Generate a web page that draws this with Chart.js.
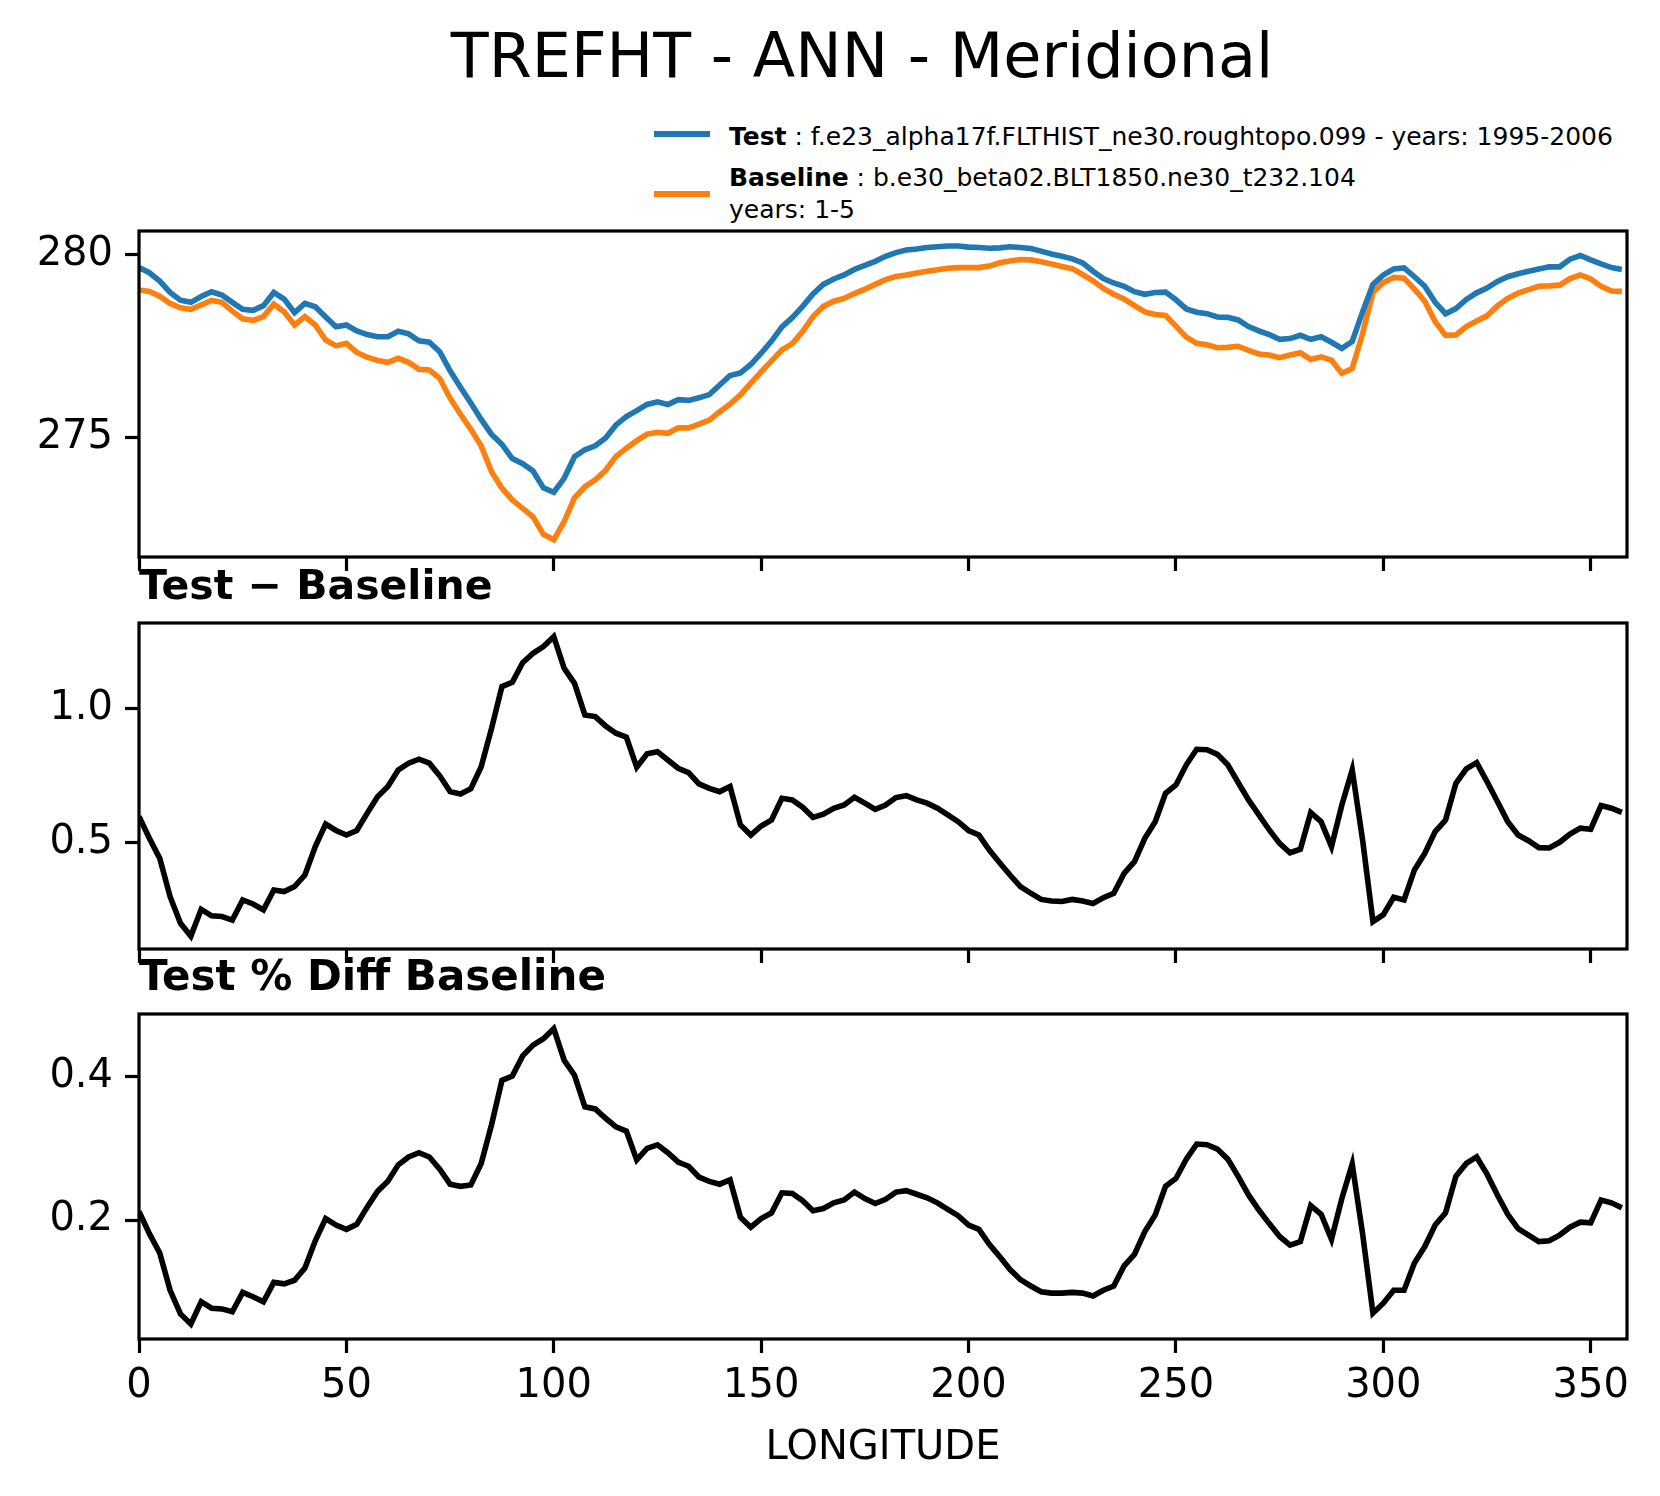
<!DOCTYPE html>
<html>
<head>
<meta charset="utf-8">
<script src="https://cdn.jsdelivr.net/npm/chart.js@4.4.1/dist/chart.umd.min.js"></script>
<style>
  html, body { margin: 0; padding: 0; background: #fff; }
  body { width: 1660px; height: 1496px; position: relative; overflow: hidden;
         font-family: "DejaVu Sans", sans-serif; color: #000; }
  canvas { position: absolute; left: 0; }
  .txt { position: absolute; white-space: nowrap; line-height: 1; }
  .swatch { position: absolute; height: 6px; width: 56px; }
</style>
</head>
<body>
<div class="txt" style="left:32px; width:1660px; text-align:center; top:25px; font-size:62px;">TREFHT - ANN - Meridional</div>

<div class="swatch" style="left:654px; top:131px; background:#1f77b4;"></div>
<div class="txt" style="left:729px; top:124px; font-size:25px;"><b>Test</b> : f.e23_alpha17f.FLTHIST_ne30.roughtopo.099 - years: 1995-2006</div>
<div class="swatch" style="left:654px; top:191px; background:#ff7f0e;"></div>
<div class="txt" style="left:729px; top:165px; font-size:25px;"><b>Baseline</b> : b.e30_beta02.BLT1850.ne30_t232.104</div>
<div class="txt" style="left:729px; top:197px; font-size:25px;">years: 1-5</div>

<canvas id="c1" width="1660" height="366" style="top:221px;"></canvas>
<canvas id="c2" width="1660" height="366" style="top:613px;"></canvas>
<canvas id="c3" width="1660" height="469" style="top:1004px;"></canvas>

<div class="txt" style="left:139px; top:565px; font-size:41px; font-weight:bold;">Test − Baseline</div>
<div class="txt" style="left:139px; top:955px; font-size:42px; font-weight:bold;">Test % Diff Baseline</div>

<script>
// longitude grid (degrees east)
var lon = [
  0, 2.5, 5, 7.5, 10, 12.5, 15, 17.5, 20, 22.5,
  25, 27.5, 30, 32.5, 35, 37.5, 40, 42.5, 45, 47.5,
  50, 52.5, 55, 57.5, 60, 62.5, 65, 67.5, 70, 72.5,
  75, 77.5, 80, 82.5, 85, 87.5, 90, 92.5, 95, 97.5,
  100, 102.5, 105, 107.5, 110, 112.5, 115, 117.5, 120, 122.5,
  125, 127.5, 130, 132.5, 135, 137.5, 140, 142.5, 145, 147.5,
  150, 152.5, 155, 157.5, 160, 162.5, 165, 167.5, 170, 172.5,
  175, 177.5, 180, 182.5, 185, 187.5, 190, 192.5, 195, 197.5,
  200, 202.5, 205, 207.5, 210, 212.5, 215, 217.5, 220, 222.5,
  225, 227.5, 230, 232.5, 235, 237.5, 240, 242.5, 245, 247.5,
  250, 252.5, 255, 257.5, 260, 262.5, 265, 267.5, 270, 272.5,
  275, 277.5, 280, 282.5, 285, 287.5, 290, 292.5, 295, 297.5,
  300, 302.5, 305, 307.5, 310, 312.5, 315, 317.5, 320, 322.5,
  325, 327.5, 330, 332.5, 335, 337.5, 340, 342.5, 345, 347.5,
  350, 352.5, 355, 357.5
];

// TREFHT test run (K)
var testVals = [
  279.64, 279.50, 279.27, 278.96, 278.75, 278.69, 278.85, 278.98, 278.89, 278.69,
  278.50, 278.47, 278.60, 278.96, 278.78, 278.41, 278.66, 278.57, 278.29, 278.02,
  278.07, 277.91, 277.81, 277.75, 277.75, 277.90, 277.83, 277.64, 277.60, 277.34,
  276.82, 276.37, 275.94, 275.49, 275.08, 274.81, 274.42, 274.28, 274.08, 273.62,
  273.50, 273.88, 274.47, 274.66, 274.77, 274.98, 275.34, 275.57, 275.73, 275.90,
  275.97, 275.90, 276.03, 276.01, 276.08, 276.17, 276.43, 276.69, 276.76, 276.99,
  277.30, 277.63, 278.02, 278.27, 278.58, 278.92, 279.18, 279.33, 279.44, 279.59,
  279.70, 279.81, 279.95, 280.05, 280.12, 280.15, 280.19, 280.21, 280.23, 280.23,
  280.20, 280.19, 280.17, 280.18, 280.21, 280.19, 280.16, 280.09, 280.01, 279.95,
  279.88, 279.77, 279.54, 279.34, 279.22, 279.13, 278.98, 278.91, 278.96, 278.97,
  278.76, 278.51, 278.42, 278.38, 278.29, 278.28, 278.21, 278.03, 277.91, 277.81,
  277.68, 277.70, 277.79, 277.68, 277.75, 277.60, 277.43, 277.62, 278.43, 279.18,
  279.44, 279.60, 279.63, 279.39, 279.13, 278.69, 278.38, 278.52, 278.77, 278.95,
  279.08, 279.26, 279.39, 279.47, 279.54, 279.60, 279.66, 279.66, 279.87, 279.97,
  279.85, 279.74, 279.64, 279.59
];

// TREFHT baseline run (K)
var baseVals = [
  279.03, 278.99, 278.86, 278.66, 278.54, 278.50, 278.62, 278.74, 278.69, 278.45,
  278.24, 278.20, 278.30, 278.64, 278.43, 278.07, 278.30, 278.07, 277.66, 277.50,
  277.57, 277.32, 277.19, 277.10, 277.05, 277.16, 277.05, 276.86, 276.84, 276.61,
  276.07, 275.63, 275.22, 274.76, 274.06, 273.61, 273.29, 273.06, 272.83, 272.35,
  272.20, 272.70, 273.35, 273.65, 273.84, 274.10, 274.48, 274.70, 274.91, 275.09,
  275.14, 275.11, 275.26, 275.26, 275.36, 275.47, 275.70, 275.91, 276.16, 276.48,
  276.79, 277.09, 277.39, 277.56, 277.89, 278.30, 278.58, 278.72, 278.80, 278.93,
  279.05, 279.18, 279.31, 279.40, 279.44, 279.49, 279.54, 279.58, 279.62, 279.64,
  279.64, 279.64, 279.68, 279.77, 279.82, 279.86, 279.85, 279.80, 279.74, 279.67,
  279.61, 279.45, 279.28, 279.07, 278.91, 278.78, 278.60, 278.43, 278.36, 278.33,
  278.04, 277.74, 277.57, 277.53, 277.45, 277.46, 277.49, 277.38, 277.28, 277.25,
  277.18, 277.25, 277.31, 277.13, 277.20, 277.11, 276.75, 276.88, 277.84, 278.96,
  279.23, 279.37, 279.35, 279.05, 278.72, 278.16, 277.79, 277.80, 278.03, 278.18,
  278.32, 278.59, 278.80, 278.94, 279.04, 279.13, 279.14, 279.16, 279.34, 279.44,
  279.33, 279.13, 279.00, 278.99
];

// Test - Baseline (K)
var diffVals = [
  0.596, 0.515, 0.440, 0.297, 0.198, 0.150, 0.250, 0.226, 0.223, 0.210,
  0.285, 0.270, 0.248, 0.322, 0.316, 0.335, 0.378, 0.484, 0.568, 0.544,
  0.527, 0.544, 0.608, 0.670, 0.708, 0.770, 0.795, 0.810, 0.795, 0.748,
  0.689, 0.680, 0.700, 0.782, 0.925, 1.081, 1.097, 1.170, 1.205, 1.230,
  1.267, 1.149, 1.093, 0.975, 0.969, 0.934, 0.907, 0.892, 0.780, 0.830,
  0.838, 0.807, 0.776, 0.760, 0.718, 0.701, 0.689, 0.708, 0.565, 0.527,
  0.561, 0.583, 0.664, 0.658, 0.631, 0.593, 0.605, 0.627, 0.639, 0.668,
  0.646, 0.623, 0.639, 0.667, 0.674, 0.658, 0.646, 0.627, 0.602, 0.577,
  0.544, 0.527, 0.471, 0.424, 0.378, 0.335, 0.310, 0.287, 0.281, 0.279,
  0.287, 0.281, 0.272, 0.293, 0.310, 0.384, 0.428, 0.515, 0.577, 0.683,
  0.714, 0.789, 0.847, 0.845, 0.828, 0.789, 0.723, 0.658, 0.602, 0.546,
  0.496, 0.461, 0.474, 0.611, 0.577, 0.484, 0.639, 0.770, 0.509, 0.204,
  0.230, 0.295, 0.285, 0.397, 0.459, 0.540, 0.583, 0.720, 0.774, 0.797,
  0.726, 0.652, 0.577, 0.527, 0.506, 0.480, 0.479, 0.500, 0.531, 0.553,
  0.549, 0.637, 0.627, 0.612
];

// Test % Diff Baseline
var pctVals = [
  0.212, 0.181, 0.154, 0.102, 0.069, 0.055, 0.086, 0.077, 0.076, 0.072,
  0.099, 0.093, 0.086, 0.113, 0.111, 0.116, 0.133, 0.171, 0.202, 0.193,
  0.187, 0.194, 0.218, 0.240, 0.254, 0.277, 0.288, 0.294, 0.288, 0.271,
  0.250, 0.247, 0.249, 0.279, 0.333, 0.395, 0.401, 0.429, 0.444, 0.453,
  0.467, 0.423, 0.402, 0.358, 0.355, 0.342, 0.330, 0.324, 0.284, 0.300,
  0.305, 0.294, 0.281, 0.275, 0.260, 0.254, 0.250, 0.256, 0.204, 0.190,
  0.202, 0.210, 0.238, 0.237, 0.227, 0.213, 0.216, 0.224, 0.228, 0.239,
  0.230, 0.223, 0.229, 0.239, 0.241, 0.236, 0.231, 0.224, 0.215, 0.206,
  0.193, 0.187, 0.166, 0.149, 0.131, 0.117, 0.108, 0.100, 0.098, 0.098,
  0.099, 0.098, 0.094, 0.102, 0.108, 0.136, 0.152, 0.184, 0.207, 0.247,
  0.258, 0.285, 0.306, 0.305, 0.299, 0.285, 0.261, 0.235, 0.214, 0.195,
  0.177, 0.165, 0.170, 0.220, 0.208, 0.173, 0.230, 0.278, 0.181, 0.070,
  0.084, 0.102, 0.102, 0.140, 0.163, 0.193, 0.210, 0.261, 0.279, 0.288,
  0.264, 0.235, 0.208, 0.188, 0.179, 0.170, 0.171, 0.179, 0.190, 0.197,
  0.196, 0.228, 0.224, 0.217
];

var xTicks = [0, 50, 100, 150, 200, 250, 300, 350];
var yTicksTop = [275, 280];
var yTicksDiff = [0.5, 1.0];
var yTicksPct = [0.2, 0.4];

function pts(ys) {
  return lon.map(function (x, i) { return { x: x, y: ys[i] }; });
}

// full box round the plot area, drawn over the lines like matplotlib spines
var frame = {
  id: 'frame',
  afterDraw: function (chart) {
    var a = chart.chartArea, c = chart.ctx;
    c.save();
    c.strokeStyle = '#000';
    c.lineWidth = 3.2;
    c.strokeRect(a.left, a.top, a.right - a.left, a.bottom - a.top);
    c.restore();
  }
};

var tickFont = { family: 'DejaVu Sans', size: 40 };

function makeChart(id, datasets, yMin, yMax, yTicks, digits, showX, xHeight) {
  return new Chart(document.getElementById(id).getContext('2d'), {
    type: 'line',
    data: { datasets: datasets },
    options: {
      responsive: false,
      animation: false,
      devicePixelRatio: 1,
      layout: { padding: { top: 10, right: 33, left: 0, bottom: 0 } },
      plugins: { legend: { display: false }, tooltip: { enabled: false } },
      elements: { point: { radius: 0 }, line: { tension: 0, borderWidth: 5.6 } },
      scales: {
        x: {
          type: 'linear', min: 0, max: 358.75,
          afterBuildTicks: function (s) {
            s.ticks = xTicks.map(function (v) { return { value: v }; });
          },
          afterFit: function (s) {
            s.height = xHeight; s.paddingLeft = 0; s.paddingRight = 0;
          },
          grid: { drawOnChartArea: false, drawTicks: true, tickLength: 14,
                  tickWidth: 3.2, tickColor: '#000' },
          border: { display: false },
          ticks: { display: showX, color: '#000', padding: 10, maxRotation: 0,
                   font: tickFont },
          title: { display: showX, text: 'LONGITUDE', color: '#000',
                   padding: 0, font: tickFont }
        },
        y: {
          min: yMin, max: yMax,
          afterBuildTicks: function (s) {
            s.ticks = yTicks.map(function (v) { return { value: v }; });
          },
          afterFit: function (s) {
            s.width = 139; s.paddingTop = 0; s.paddingBottom = 0;
          },
          grid: { drawOnChartArea: false, drawTicks: true, tickLength: 14,
                  tickWidth: 3.2, tickColor: '#000' },
          border: { display: false },
          ticks: {
            color: '#000', padding: 12, font: tickFont,
            callback: function (v) { return v.toFixed(digits); }
          }
        }
      }
    },
    plugins: [frame]
  });
}

makeChart('c1', [
  { data: pts(testVals), borderColor: '#1f77b4' },
  { data: pts(baseVals), borderColor: '#ff7f0e' }
], 271.73, 280.64, yTicksTop, 0, false, 30);

makeChart('c2', [
  { data: pts(diffVals), borderColor: '#000' }
], 0.102, 1.318, yTicksDiff, 1, false, 30);

makeChart('c3', [
  { data: pts(pctVals), borderColor: '#000' }
], 0.034, 0.4875, yTicksPct, 1, true, 134);
</script>
</body>
</html>
